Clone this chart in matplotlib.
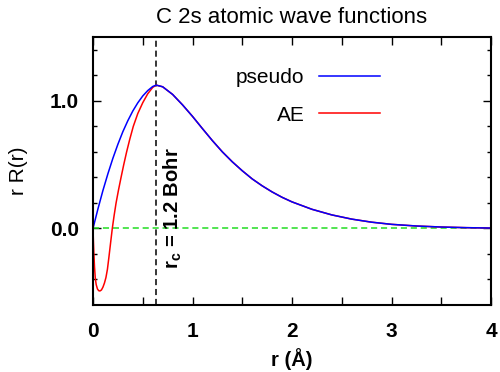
import matplotlib
matplotlib.use("Agg")
import matplotlib.pyplot as plt

plt.rcParams['font.family'] = ['Liberation Sans', 'DejaVu Sans']
plt.rcParams['mathtext.fontset'] = 'custom'
plt.rcParams['mathtext.rm'] = 'Liberation Sans:bold'
plt.rcParams['mathtext.it'] = 'Liberation Sans:bold'

# all-electron 2s wave function inside the cutoff radius (r in Angstrom)
r_ae = [0.000, 0.004, 0.009, 0.015, 0.023, 0.032, 0.045, 0.058, 0.070, 0.085,
        0.100, 0.115, 0.130, 0.145, 0.160, 0.175, 0.194, 0.212, 0.232, 0.256,
        0.282, 0.309, 0.338, 0.370, 0.405, 0.450, 0.500, 0.550, 0.600, 0.635]
ae = [0.000, -0.100, -0.200, -0.300, -0.390, -0.440, -0.475, -0.488, -0.490, -0.482,
      -0.460, -0.428, -0.385, -0.320, -0.225, -0.125, 0.000, 0.100, 0.200, 0.300,
      0.400, 0.500, 0.600, 0.700, 0.800, 0.900, 0.985, 1.055, 1.105, 1.123]

# pseudo wave function inside the cutoff radius
r_ps = [0.000, 0.050, 0.100, 0.150, 0.200, 0.250, 0.300, 0.350, 0.400, 0.450,
        0.500, 0.550, 0.600, 0.635]
ps = [0.000, 0.154, 0.298, 0.429, 0.550, 0.659, 0.758, 0.844, 0.920, 0.984,
      1.038, 1.080, 1.112, 1.123]

# both are the same outside r_c
r_tail = [0.70, 0.80, 0.90, 1.00, 1.10, 1.20, 1.30, 1.40, 1.50, 1.60, 1.70, 1.80,
          1.90, 2.00, 2.20, 2.40, 2.60, 2.80, 3.00, 3.25, 3.50, 3.75, 4.00]
tail = [1.110, 1.050, 0.968, 0.878, 0.782, 0.688, 0.600, 0.522, 0.452, 0.388, 0.334, 0.286,
        0.244, 0.208, 0.150, 0.106, 0.073, 0.049, 0.032, 0.019, 0.011, 0.006, 0.003]

r_cut = 0.635  # 1.2 Bohr

fig = plt.figure(figsize=(5, 3.72), dpi=100)
ax = fig.add_axes([93 / 500, 1 - 305 / 372, 398 / 500, 268 / 372])

ax.axhline(0, color='#22dd22', lw=1.1, dashes=(4, 2.5))
ax.axvline(r_cut, color='black', lw=1.1, dashes=(4, 2.5))
ax.plot(r_ae + r_tail, ae + tail, color='#ff0000', lw=1.1, label='AE')
ax.plot(r_ps + r_tail, ps + tail, color='#0000ff', lw=1.1, label='pseudo')

ax.text(0.69, -0.32, r'r$_\mathregular{c}$ = 1.2 Bohr', rotation=90,
        ha='left', va='bottom', fontsize=14.5, fontweight='bold')

ax.set_xlim(0, 4)
ax.set_ylim(-0.6, 1.5)
ax.set_xticks([0, 0.5, 1, 1.5, 2, 2.5, 3, 3.5, 4])
ax.set_xticklabels(['0', '', '1', '', '2', '', '3', '', '4'])
ax.set_yticks([0, 1])
ax.set_yticklabels(['0.0', '1.0'])
ax.set_yticks([-0.4, -0.2, 0.2, 0.4, 0.6, 0.8, 1.2, 1.4], minor=True)
ax.tick_params(which='both', direction='in', top=True, right=True, width=1)
ax.tick_params(which='major', length=6)
ax.tick_params(which='minor', length=3)
ax.tick_params(axis='x', pad=12, labelsize=15)
ax.tick_params(axis='y', pad=10, labelsize=15)
for lab in ax.get_xticklabels() + ax.get_yticklabels():
    lab.set_fontweight('bold')
for sp in ax.spines.values():
    sp.set_linewidth(1.5)

ax.set_xlabel('r (Å)', fontsize=14.5, fontweight='bold', labelpad=5)
ax.set_ylabel('r R(r)', fontsize=15, labelpad=16)
ax.set_title('C 2s atomic wave functions', fontsize=16, pad=10)

handles, labels = ax.get_legend_handles_labels()
ax.legend(handles[::-1], labels[::-1], loc='upper right', bbox_to_anchor=(0.72, 0.885),
          frameon=False, markerfirst=False, fontsize=15, handlelength=2.9,
          handletextpad=0.7, labelspacing=0.9, borderpad=0, borderaxespad=0)

fig.savefig('out.png', dpi=100)
